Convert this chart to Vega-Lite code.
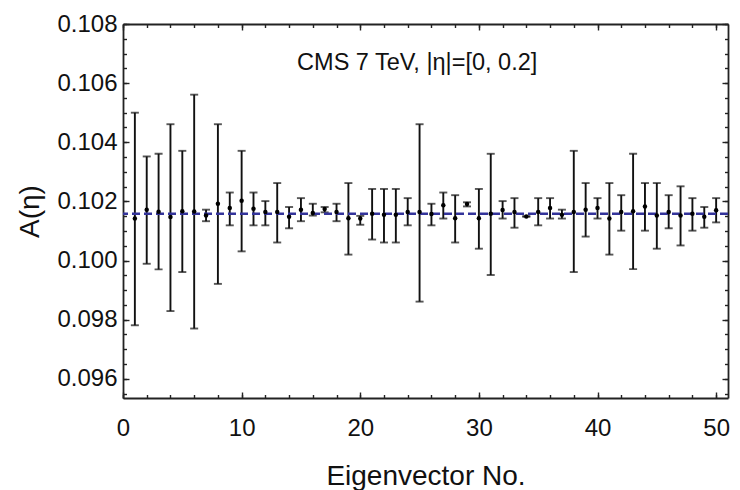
{
  "$schema": "https://vega.github.io/schema/vega-lite/v6.json",
  "width": 605,
  "height": 374,
  "autosize": {"type": "none"},
  "padding": {"left": 123, "top": 24, "right": 12, "bottom": 92},
  "background": "white",
  "config": {
    "view": {"stroke": null},
    "font": "Liberation Sans",
    "axis": {
      "domainColor": "#222222",
      "domainWidth": 1.8,
      "tickColor": "#222222",
      "tickWidth": 1.4,
      "grid": false,
      "labelFlush": false,
      "labelFont": "Liberation Sans",
      "labelFontSize": 24,
      "labelColor": "#111111",
      "titleFont": "Liberation Sans",
      "titleFontWeight": "normal",
      "titleFontSize": 28,
      "titleColor": "#111111"
    }
  },
  "data": {
    "values": [
      {"n": 1, "v": 0.10142, "lo": 0.09781, "hi": 0.10500},
      {"n": 2, "v": 0.10172, "lo": 0.09989, "hi": 0.10352},
      {"n": 3, "v": 0.10165, "lo": 0.09970, "hi": 0.10361},
      {"n": 4, "v": 0.10147, "lo": 0.09829, "hi": 0.10461},
      {"n": 5, "v": 0.10167, "lo": 0.09961, "hi": 0.10371},
      {"n": 6, "v": 0.10166, "lo": 0.09770, "hi": 0.10561},
      {"n": 7, "v": 0.10152, "lo": 0.10133, "hi": 0.10172},
      {"n": 8, "v": 0.10192, "lo": 0.09921, "hi": 0.10461},
      {"n": 9, "v": 0.10178, "lo": 0.10119, "hi": 0.10230},
      {"n": 10, "v": 0.10202, "lo": 0.10031, "hi": 0.10371},
      {"n": 11, "v": 0.10175, "lo": 0.10119, "hi": 0.10230},
      {"n": 12, "v": 0.10164, "lo": 0.10119, "hi": 0.10201},
      {"n": 13, "v": 0.10164, "lo": 0.10061, "hi": 0.10262},
      {"n": 14, "v": 0.10148, "lo": 0.10109, "hi": 0.10181},
      {"n": 15, "v": 0.10172, "lo": 0.10133, "hi": 0.10211},
      {"n": 16, "v": 0.10161, "lo": 0.10152, "hi": 0.10192},
      {"n": 17, "v": 0.10174, "lo": 0.10163, "hi": 0.10181},
      {"n": 18, "v": 0.10164, "lo": 0.10133, "hi": 0.10192},
      {"n": 19, "v": 0.10143, "lo": 0.10020, "hi": 0.10262},
      {"n": 20, "v": 0.10142, "lo": 0.10121, "hi": 0.10151},
      {"n": 21, "v": 0.10158, "lo": 0.10071, "hi": 0.10242},
      {"n": 22, "v": 0.10155, "lo": 0.10061, "hi": 0.10242},
      {"n": 23, "v": 0.10155, "lo": 0.10061, "hi": 0.10242},
      {"n": 24, "v": 0.10164, "lo": 0.10119, "hi": 0.10211},
      {"n": 25, "v": 0.10164, "lo": 0.09861, "hi": 0.10461},
      {"n": 26, "v": 0.10157, "lo": 0.10119, "hi": 0.10192},
      {"n": 27, "v": 0.10187, "lo": 0.10142, "hi": 0.10230},
      {"n": 28, "v": 0.10143, "lo": 0.10061, "hi": 0.10221},
      {"n": 29, "v": 0.10191, "lo": 0.10183, "hi": 0.10197},
      {"n": 30, "v": 0.10143, "lo": 0.10040, "hi": 0.10242},
      {"n": 31, "v": 0.10158, "lo": 0.09951, "hi": 0.10361},
      {"n": 32, "v": 0.10171, "lo": 0.10142, "hi": 0.10201},
      {"n": 33, "v": 0.10164, "lo": 0.10111, "hi": 0.10211},
      {"n": 34, "v": 0.10149, "lo": 0.10148, "hi": 0.10150},
      {"n": 35, "v": 0.10164, "lo": 0.10119, "hi": 0.10211},
      {"n": 36, "v": 0.10178, "lo": 0.10142, "hi": 0.10211},
      {"n": 37, "v": 0.10155, "lo": 0.10142, "hi": 0.10172},
      {"n": 38, "v": 0.10164, "lo": 0.09961, "hi": 0.10371},
      {"n": 39, "v": 0.10172, "lo": 0.10081, "hi": 0.10262},
      {"n": 40, "v": 0.10178, "lo": 0.10142, "hi": 0.10211},
      {"n": 41, "v": 0.10142, "lo": 0.10020, "hi": 0.10262},
      {"n": 42, "v": 0.10164, "lo": 0.10101, "hi": 0.10221},
      {"n": 43, "v": 0.10167, "lo": 0.09971, "hi": 0.10361},
      {"n": 44, "v": 0.10183, "lo": 0.10101, "hi": 0.10262},
      {"n": 45, "v": 0.10152, "lo": 0.10040, "hi": 0.10262},
      {"n": 46, "v": 0.10164, "lo": 0.10109, "hi": 0.10221},
      {"n": 47, "v": 0.10152, "lo": 0.10051, "hi": 0.10251},
      {"n": 48, "v": 0.10158, "lo": 0.10101, "hi": 0.10211},
      {"n": 49, "v": 0.10148, "lo": 0.10111, "hi": 0.10181},
      {"n": 50, "v": 0.10170, "lo": 0.10129, "hi": 0.10211}
    ]
  },
  "resolve": {"axis": {"x": "independent", "y": "independent"}},
  "layer": [
    {
      "mark": {"type": "rule", "color": "#111111", "strokeWidth": 1.9},
      "encoding": {
        "x": {"field": "n", "type": "quantitative",
          "scale": {"domain": [0, 51], "nice": false, "zero": false},
          "axis": {"orient": "bottom", "values": [0, 10, 20, 30, 40, 50], "tickSize": -6, "labelPadding": 24, "title": "Eigenvector No.", "titlePadding": 22}},
        "y": {"field": "lo", "type": "quantitative",
          "scale": {"domain": [0.09535, 0.108], "nice": false, "zero": false},
          "axis": {"orient": "left", "values": [0.096, 0.098, 0.1, 0.102, 0.104, 0.106, 0.108], "format": ".3f", "tickSize": -6, "labelPadding": 12, "title": "A(η)", "titlePadding": 12}},
        "y2": {"field": "hi"}
      }
    },
    {
      "mark": {"type": "tick", "orient": "horizontal", "color": "#111111", "size": 8, "thickness": 1.9},
      "encoding": {
        "x": {"field": "n", "type": "quantitative",
          "axis": {"orient": "bottom", "values": [0,2,4,6,8,10,12,14,16,18,20,22,24,26,28,30,32,34,36,38,40,42,44,46,48,50], "tickSize": -3.5, "labels": false, "domain": false, "title": null}},
        "y": {"field": "hi", "type": "quantitative",
          "axis": {"orient": "left", "values": [0.0955,0.096,0.0965,0.097,0.0975,0.098,0.0985,0.099,0.0995,0.1,0.1005,0.101,0.1015,0.102,0.1025,0.103,0.1035,0.104,0.1045,0.105,0.1055,0.106,0.1065,0.107,0.1075,0.108], "tickSize": -3.5, "labels": false, "domain": false, "title": null}}
      }
    },
    {
      "mark": {"type": "tick", "orient": "horizontal", "color": "#111111", "size": 8, "thickness": 1.9},
      "encoding": {
        "x": {"field": "n", "type": "quantitative",
          "axis": {"orient": "top", "values": [0, 10, 20, 30, 40, 50], "tickSize": -6, "labels": false, "title": null}},
        "y": {"field": "lo", "type": "quantitative",
          "axis": {"orient": "right", "values": [0.096, 0.098, 0.1, 0.102, 0.104, 0.106, 0.108], "tickSize": -6, "labels": false, "title": null}}
      }
    },
    {
      "data": {"values": [{"ref": 0.10158}]},
      "mark": {"type": "rule", "color": "#33339a", "strokeWidth": 2.6, "strokeDash": [8, 4]},
      "encoding": {
        "y": {"field": "ref", "type": "quantitative",
          "axis": {"orient": "right", "values": [0.0955,0.096,0.0965,0.097,0.0975,0.098,0.0985,0.099,0.0995,0.1,0.1005,0.101,0.1015,0.102,0.1025,0.103,0.1035,0.104,0.1045,0.105,0.1055,0.106,0.1065,0.107,0.1075,0.108], "tickSize": -3.5, "labels": false, "domain": false, "title": null}}
      }
    },
    {
      "mark": {"type": "circle", "color": "#000000", "opacity": 1, "size": 20},
      "encoding": {
        "x": {"field": "n", "type": "quantitative",
          "axis": {"orient": "top", "values": [0,2,4,6,8,10,12,14,16,18,20,22,24,26,28,30,32,34,36,38,40,42,44,46,48,50], "tickSize": -3.5, "labels": false, "domain": false, "title": null}},
        "y": {"field": "v", "type": "quantitative", "axis": null}
      }
    },
    {
      "data": {"values": [{"label": "CMS 7 TeV, |η|=[0, 0.2]", "px": 24.8, "py": 0.10669}]},
      "mark": {"type": "text", "font": "Liberation Sans", "fontSize": 23.5, "color": "#111111", "align": "center", "baseline": "middle"},
      "encoding": {
        "text": {"field": "label"},
        "x": {"field": "px", "type": "quantitative", "axis": null},
        "y": {"field": "py", "type": "quantitative", "axis": null}
      }
    }
  ]
}
